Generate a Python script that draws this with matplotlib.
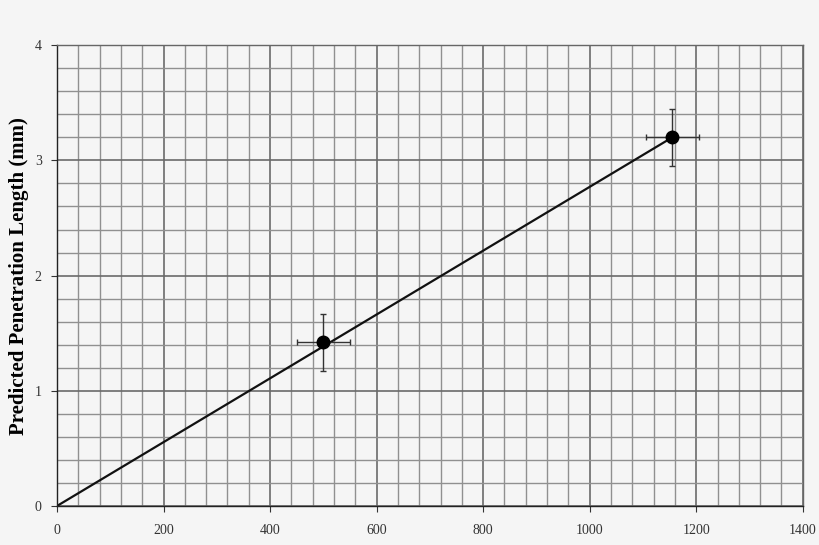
import matplotlib.pyplot as plt
import numpy as np

# measured points
x_pts = [500, 1155]
y_pts = [1.42, 3.20]
x_err = [50, 50]
y_err = [0.25, 0.25]

# fitted line through origin
line_x = [0, 1155]
line_y = [0, 3.20]

x_ticks = [0, 200, 400, 600, 800, 1000, 1200, 1400]
y_ticks = [0, 1, 2, 3, 4]

plt.rcParams['font.family'] = 'Liberation Serif'

fig = plt.figure(figsize=(8.2, 5.45), dpi=100, facecolor='#f5f5f5')
ax = fig.add_axes([0.0695, 0.0716, 0.9095, 0.8454])
ax.set_facecolor('#f5f5f5')

ax.set_xlim(0, 1400)
ax.set_ylim(0, 4)
ax.set_xticks(x_ticks)
ax.set_yticks(y_ticks)
ax.set_xticks(np.arange(0, 1401, 40), minor=True)
ax.set_yticks(np.arange(0, 4.01, 0.2), minor=True)
ax.grid(which='minor', color='#909090', lw=1.0)
ax.grid(which='major', color='#6a6a6a', lw=1.2)
ax.tick_params(which='minor', length=0)
ax.tick_params(which='major', length=4, width=0.8, labelsize=10, colors='#333333')
ax.tick_params(axis='x', pad=9)
ax.tick_params(axis='y', pad=7)
ax.set_axisbelow(True)
for s in ax.spines.values():
    s.set_color('#666666')
    s.set_linewidth(1.0)
ax.spines['left'].set_color('#222222')
ax.spines['bottom'].set_color('#222222')

ax.plot(line_x, line_y, color='#111111', lw=1.6)
ax.errorbar(x_pts, y_pts, xerr=x_err, yerr=y_err, fmt='o', color='black',
            ms=9, ecolor='#333333', elinewidth=1.0, capsize=2.5, capthick=1.0)

ax.set_ylabel('Predicted Penetration Length (mm)', fontsize=15, fontweight='bold')
ax.yaxis.set_label_coords(-0.037, 0.5)

fig.savefig('out.png', dpi=100, facecolor=fig.get_facecolor())
